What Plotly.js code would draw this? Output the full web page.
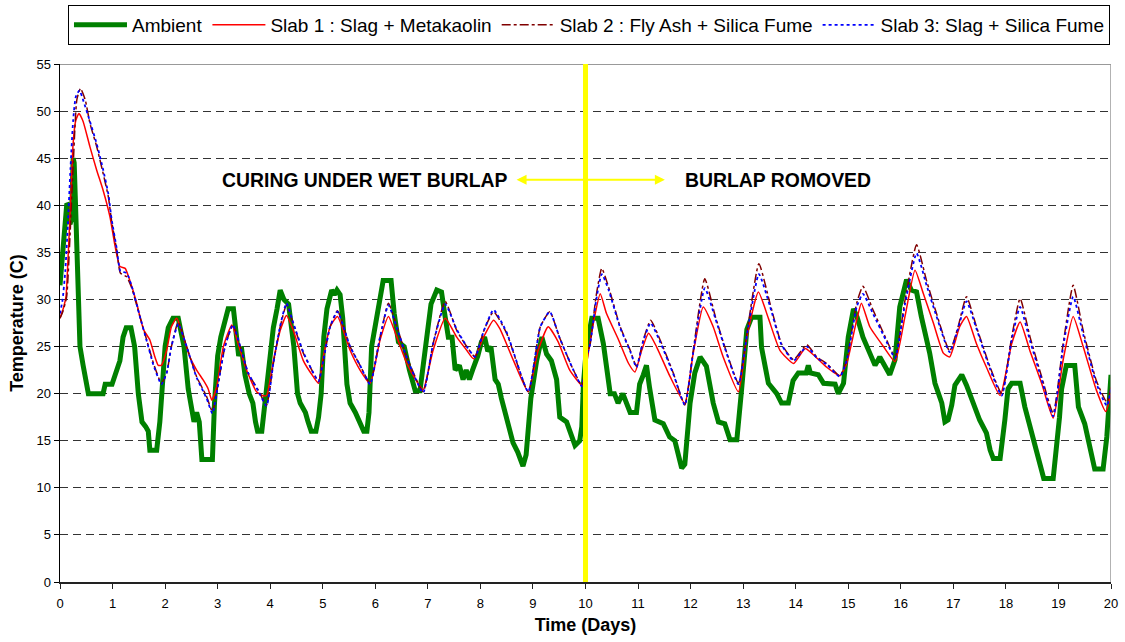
<!DOCTYPE html>
<html>
<head>
<meta charset="utf-8">
<script src="https://cdn.plot.ly/plotly-3.0.1.min.js"></script>
<style>html,body{margin:0;padding:0;background:#fff;}#chart{width:1125px;height:642px;}</style>
</head>
<body>
<div id="chart"></div>
<script>
// ---- Data ----
const ambDays = [0,0.05,0.1,0.13,0.16,0.19,0.22,0.25,0.27,0.29,0.32,0.35,0.38,0.44,0.54,0.82,0.86,0.99,1.05,1.14,1.2,1.26,1.35,1.42,1.49,1.56,1.63,1.68,1.71,1.84,1.9,1.96,2.0,2.06,2.15,2.25,2.36,2.44,2.5,2.55,2.6,2.65,2.7,2.9,2.94,3.0,3.06,3.16,3.2,3.3,3.34,3.4,3.45,3.52,3.6,3.67,3.72,3.76,3.84,3.88,3.96,4.0,4.06,4.13,4.19,4.26,4.35,4.45,4.52,4.57,4.67,4.72,4.78,4.87,4.92,4.97,5.02,5.08,5.17,5.22,5.27,5.33,5.38,5.46,5.52,5.62,5.71,5.78,5.84,5.88,5.93,6.0,6.06,6.12,6.15,6.3,6.36,6.44,6.55,6.65,6.76,6.85,6.91,6.97,7.06,7.17,7.26,7.32,7.39,7.46,7.52,7.6,7.67,7.73,7.79,7.85,7.95,8.02,8.08,8.14,8.2,8.28,8.34,8.4,8.5,8.62,8.71,8.81,8.87,8.96,9.07,9.17,9.26,9.35,9.45,9.51,9.64,9.7,9.8,9.89,9.93,9.96,10.02,10.12,10.24,10.34,10.47,10.55,10.62,10.71,10.78,10.85,10.97,11.03,11.1,11.16,11.22,11.32,11.48,11.55,11.6,11.7,11.75,11.83,11.89,11.95,11.99,12.08,12.18,12.3,12.43,12.53,12.65,12.75,12.88,12.97,13.07,13.16,13.32,13.35,13.48,13.64,13.73,13.86,13.95,14.05,14.2,14.24,14.28,14.43,14.53,14.75,14.81,14.91,15.0,15.1,15.17,15.28,15.41,15.51,15.6,15.7,15.79,15.89,15.98,16.11,16.2,16.3,16.39,16.55,16.65,16.78,16.84,16.9,16.97,17.03,17.16,17.25,17.38,17.5,17.63,17.7,17.76,17.89,17.98,18.04,18.11,18.27,18.36,18.49,18.61,18.68,18.72,18.9,18.96,19.02,19.06,19.15,19.31,19.38,19.5,19.63,19.69,19.85,19.92,20.0];
const ambTemp = [31.5,35,39.5,40.2,40,38,38.5,45,44.5,41,35.5,29,25,23,20,20,21,21,22,23.5,26,27,27,25,20,17,16.5,16,14,14,17,22,25,27,28,28,25,20.5,18.5,17,18,17,13,13,19,24,26,28.5,29,29,27,24,25,22,20,19,17,16,16,18,23,25,27,29,31,30,29.5,25,20,19,18,17,16,16,17.5,20,26,29,31,30.5,31,30.5,28,21,19,18,17,16,16,18,25,27.5,29,31.5,32,32,28.5,25.5,25,22.5,20.3,20.3,22.8,26,29.5,31,30.8,28.5,26,26,22.5,23,21.5,22.5,21.5,22.5,24,25.5,26,24.5,25,21.5,21,19.5,17.5,14.8,13.8,12.3,13.5,19.5,23.5,26,24.2,23.5,21.5,17.5,17,16,14.5,15,16.5,21,25,28,28,25.3,20,20,19,20,19,18,18,21,22,23,20.6,17.2,16.8,16,15.4,15,14,12.1,12.5,16,19,22.2,23.9,22.9,19,17,16.8,15.1,15.1,20.4,26.8,28.1,28.1,24.9,21.1,20,19,19,21.4,22.2,22.2,23,22.2,22,21.1,21,20,21.1,26,29,28.1,26,24.3,23,23.9,23,22,23.6,29.2,32.1,31,30.8,28.2,24.3,21.1,19,17,17.2,18.8,20.9,22,20.9,19,17.2,15.8,14,13.1,13.1,17.2,20.5,21.1,21.1,18.6,15.8,13.3,11.5,11,11,14,17.5,20.5,23,23,18.6,16.8,13.7,12,12,15.4,22];

const s1Days = [0,0.06,0.114,0.15,0.19,0.25,0.3,0.36,0.44,0.57,0.7,0.82,0.95,1.05,1.14,1.24,1.33,1.46,1.52,1.59,1.71,1.8,1.87,1.93,2.03,2.12,2.22,2.35,2.47,2.6,2.73,2.82,2.89,2.98,3.11,3.27,3.39,3.55,3.74,3.85,3.93,4.06,4.19,4.31,4.44,4.63,4.82,4.92,5.01,5.14,5.28,5.52,5.71,5.9,6.09,6.25,6.41,6.6,6.8,6.91,7.1,7.33,7.55,7.74,7.87,8.06,8.25,8.37,8.63,8.91,9.1,9.29,9.48,9.7,9.95,10.02,10.15,10.28,10.4,10.63,10.82,10.94,11.07,11.2,11.35,11.61,11.89,12.05,12.24,12.43,12.62,12.91,13.07,13.29,13.48,13.7,13.96,14.18,14.34,14.59,14.84,14.97,15.16,15.25,15.41,15.67,15.89,16.08,16.27,16.43,16.62,16.81,16.93,17.12,17.25,17.44,17.63,17.89,18.11,18.27,18.46,18.68,18.9,19.09,19.28,19.47,19.72,19.9,20.0];
const s1Temp = [28,29,30.3,34,38.8,46.6,49,49.75,48.9,46.2,43.7,41.6,38.8,35.6,33.5,33.3,32,29.6,28.2,26.8,25.7,24,23,23,24.6,27.1,28,26,23.9,22.5,21.4,20.5,19.3,20.7,25,27.3,25.3,22.5,20.2,19.8,19.8,23.5,26.7,28.3,26.7,23.5,21.8,21.1,23.9,27.1,28.2,24.6,22.5,21.1,25.7,28.2,26,23.2,21.2,20.4,24.6,28,26,24.6,23.7,26,27.8,26.9,23.5,20.2,24.6,27.1,25.5,22.5,20.8,23.2,27.5,30.6,28.5,25.7,23.2,22.3,24.6,26.4,25,21.8,19,24.3,29.2,27.1,23.9,20.2,26,30.8,28,24.6,23.2,24.8,24.1,22.8,21.9,23.2,27.8,29.6,27.1,25,23.4,28.2,33.1,30.6,27.5,24.3,23.9,27.1,28.2,25.3,22.8,19.8,25.3,27.6,24.5,21.1,17.4,23.6,28.2,25,20.4,18.1,20];

const s2Days = [0,0.06,0.127,0.19,0.25,0.32,0.39,0.48,0.57,0.7,0.82,0.92,0.98,1.08,1.15,1.27,1.36,1.52,1.65,1.78,1.93,2.03,2.12,2.25,2.41,2.6,2.79,2.9,3.01,3.14,3.29,3.43,3.58,3.77,3.93,4.06,4.19,4.31,4.44,4.63,4.82,4.92,5.01,5.14,5.28,5.52,5.71,5.9,6.09,6.25,6.41,6.6,6.91,7.1,7.33,7.55,7.74,7.9,8.06,8.25,8.5,8.91,9.14,9.32,9.51,9.77,9.93,10.02,10.09,10.2,10.31,10.44,10.66,10.85,10.97,11.1,11.24,11.42,11.67,11.89,12.05,12.27,12.47,12.69,12.91,13.1,13.3,13.51,13.73,13.96,14.21,14.4,14.59,14.84,14.97,15.16,15.28,15.47,15.73,15.89,16.08,16.3,16.49,16.68,16.93,17.09,17.25,17.44,17.7,17.92,18.11,18.27,18.46,18.68,18.9,19.09,19.28,19.47,19.72,19.92,20.0];
const s2Temp = [28,28.8,30.3,36.7,44.1,51.2,52.4,51.2,48.7,46.2,43.4,40.9,38.4,35.2,32.8,32.4,31.3,28.2,25.7,23.2,21.1,22.2,25,27.6,25,21.8,19.7,18.1,21.1,25,27.3,25,22.2,20.4,18.8,23.2,27.1,29.4,27.4,24.3,22.2,21.3,23.5,27.1,28.8,25,23,21.1,26,29.6,27.1,23.9,20.2,25.3,29.8,26.7,25,23.9,26.6,28.7,26.4,20.2,27.1,28.7,25.9,22.5,20.9,23.9,25.3,30.3,33.3,31.3,27.1,24.6,22.9,25.7,27.8,25.7,22.2,18.8,24.6,32.2,28.2,24.3,21.1,27.5,33.8,29.6,25.3,23.6,25.2,23.9,23.2,21.9,23.6,29.6,31.4,28.9,25.7,23.9,29.9,35.8,32,28.5,24.5,27.1,30.3,27.1,22.8,20,26,30.1,26,21.8,17.9,25.3,31.5,26.7,21.4,19.1,20.7];

const s3Days = [0,0.05,0.1,0.15,0.2,0.25,0.3,0.37,0.45,0.57,0.7,0.82,0.92,0.98,1.08,1.15,1.27,1.36,1.52,1.65,1.78,1.93,2.03,2.12,2.25,2.41,2.6,2.79,2.9,3.01,3.14,3.29,3.43,3.58,3.77,3.93,4.06,4.19,4.31,4.44,4.63,4.82,4.92,5.01,5.14,5.28,5.52,5.71,5.9,6.09,6.25,6.41,6.6,6.91,7.1,7.33,7.55,7.74,7.9,8.06,8.25,8.5,8.91,9.14,9.32,9.51,9.77,9.93,10.02,10.09,10.2,10.31,10.44,10.66,10.85,10.97,11.1,11.24,11.42,11.67,11.89,12.05,12.27,12.47,12.69,12.91,13.1,13.3,13.51,13.73,13.96,14.21,14.4,14.59,14.84,14.97,15.16,15.28,15.47,15.73,15.89,16.08,16.3,16.49,16.68,16.93,17.09,17.25,17.44,17.7,17.92,18.11,18.27,18.46,18.68,18.9,19.09,19.28,19.47,19.72,19.92,20.0];
const s3Temp = [28.5,30,33,38,44,49,51.5,52.2,51,48.9,46.5,43.8,41.2,38.6,35.4,33,32.8,31.5,28.2,25.6,23,21,22.2,25,27.4,25,21.7,19.5,17.9,21,25,27.3,25,22.2,20.3,18.7,23.2,27.2,29.6,27.5,24.4,22.2,21.3,23.5,27.1,28.7,25,23,21,26,29.4,27,23.8,20.1,25.3,29.5,26.8,25,23.9,26.6,28.9,26.5,20.2,27.1,28.7,25.9,22.5,20.8,23.9,25.3,29.8,32.7,31,27,24.5,22.8,25.6,27.5,25.5,22.1,18.8,24.4,31.2,28,24.2,21,27.2,32.7,29.3,25.2,23.5,25,23.8,23.1,21.8,23.5,29.2,30.6,28.5,25.5,23.8,29.5,34.9,31.5,28.2,24.4,26.9,29.8,26.9,22.6,19.8,25.7,29.2,25.6,21.5,17.6,25,30.3,26.3,21.1,18.7,20.5];

const xTicks = [0,1,2,3,4,5,6,7,8,9,10,11,12,13,14,15,16,17,18,19,20];
const yTicks = [0,5,10,15,20,25,30,35,40,45,50,55];
const seriesNames = ['Ambient','Slab 1 : Slag + Metakaolin','Slab 2 : Fly Ash + Silica Fume','Slab 3: Slag + Silica Fume'];
const burlapDay = 10;
const labelLeft = 'CURING UNDER WET BURLAP';
const labelRight = 'BURLAP ROMOVED';

const FONT = 'Arial, "Liberation Sans", sans-serif';

const traces = [
  {x: ambDays, y: ambTemp, name: seriesNames[0], mode: 'lines', line: {color: '#008000', width: 5}},
  {x: s1Days, y: s1Temp, name: seriesNames[1], mode: 'lines', line: {color: '#FF0000', width: 1.5, shape: 'spline', smoothing: 0.5}},
  {x: s2Days, y: s2Temp, name: seriesNames[2], mode: 'lines', line: {color: '#800000', width: 1.5, dash: 'dashdot', shape: 'spline', smoothing: 0.5}},
  {x: s3Days, y: s3Temp, name: seriesNames[3], mode: 'lines', line: {color: '#0000FF', width: 1.8, dash: 'dot', shape: 'spline', smoothing: 0.5}}
];

const layout = {
  width: 1125, height: 642,
  margin: {l: 60, r: 14, t: 64, b: 60, autoexpand: false},
  paper_bgcolor: '#fff', plot_bgcolor: '#fff',
  font: {family: FONT, color: '#000', size: 13},
  showlegend: true,
  legend: {
    orientation: 'h', x: 0.0076, y: 1.114, xanchor: 'left', yanchor: 'top',
    bordercolor: '#000', borderwidth: 1, bgcolor: '#fff',
    font: {family: FONT, size: 19, color: '#000'},
    tracegroupgap: 0, itemwidth: 53
  },
  xaxis: {
    range: [0, 20], tickvals: xTicks, ticktext: xTicks.map(String),
    showgrid: false, zeroline: false,
    showline: true, linecolor: '#222', linewidth: 1.5,
    ticks: 'outside', ticklen: 5, tickcolor: '#222',
    tickfont: {family: FONT, size: 13, color: '#000'},
    ticklabelstandoff: 4,
    title: {text: '<b>Time (Days)</b>', font: {family: FONT, size: 18, color: '#000'}, standoff: 8},
    fixedrange: true
  },
  yaxis: {
    range: [0, 55], tickvals: yTicks, ticktext: yTicks.map(String),
    showgrid: true, gridcolor: '#333', gridwidth: 1, griddash: '8px,5px',
    zeroline: false,
    showline: true, linecolor: '#000', linewidth: 1.5,
    ticks: 'outside', ticklen: 5, tickcolor: '#000',
    tickfont: {family: FONT, size: 13, color: '#000'},
    title: {text: '<b>Temperature (C)</b>', font: {family: FONT, size: 18, color: '#000'}, standoff: 8},
    fixedrange: true
  },
  shapes: [
    {type: 'line', xref: 'x', yref: 'y', x0: 0, x1: 20, y0: 55, y1: 55, line: {color: '#999', width: 2}, layer: 'above'},
    {type: 'line', xref: 'x', yref: 'y', x0: 20, x1: 20, y0: 0, y1: 55, line: {color: '#999', width: 1.5}, layer: 'above'},
    {type: 'line', xref: 'x', yref: 'y', x0: burlapDay, x1: burlapDay, y0: 0, y1: 55, line: {color: '#FFFF00', width: 5}, layer: 'above'}
  ],
  annotations: [
    {x: 5.8, y: 42.7, xref: 'x', yref: 'y', text: '<b>' + labelLeft + '</b>', showarrow: false,
     font: {family: FONT, size: 19.4, color: '#000'}},
    {x: 13.67, y: 42.7, xref: 'x', yref: 'y', text: '<b>' + labelRight + '</b>', showarrow: false,
     font: {family: FONT, size: 19.4, color: '#000'}},
    {x: 11.51, y: 42.7, ax: 8.66, ay: 42.7, xref: 'x', yref: 'y', axref: 'x', ayref: 'y',
     text: '', showarrow: true, arrowside: 'end+start', arrowhead: 2, arrowsize: 1, arrowwidth: 2,
     arrowcolor: '#FFFF00', standoff: 0, startstandoff: 0}
  ]
};

Plotly.newPlot('chart', traces, layout, {displayModeBar: false, staticPlot: true});
</script>
</body>
</html>
